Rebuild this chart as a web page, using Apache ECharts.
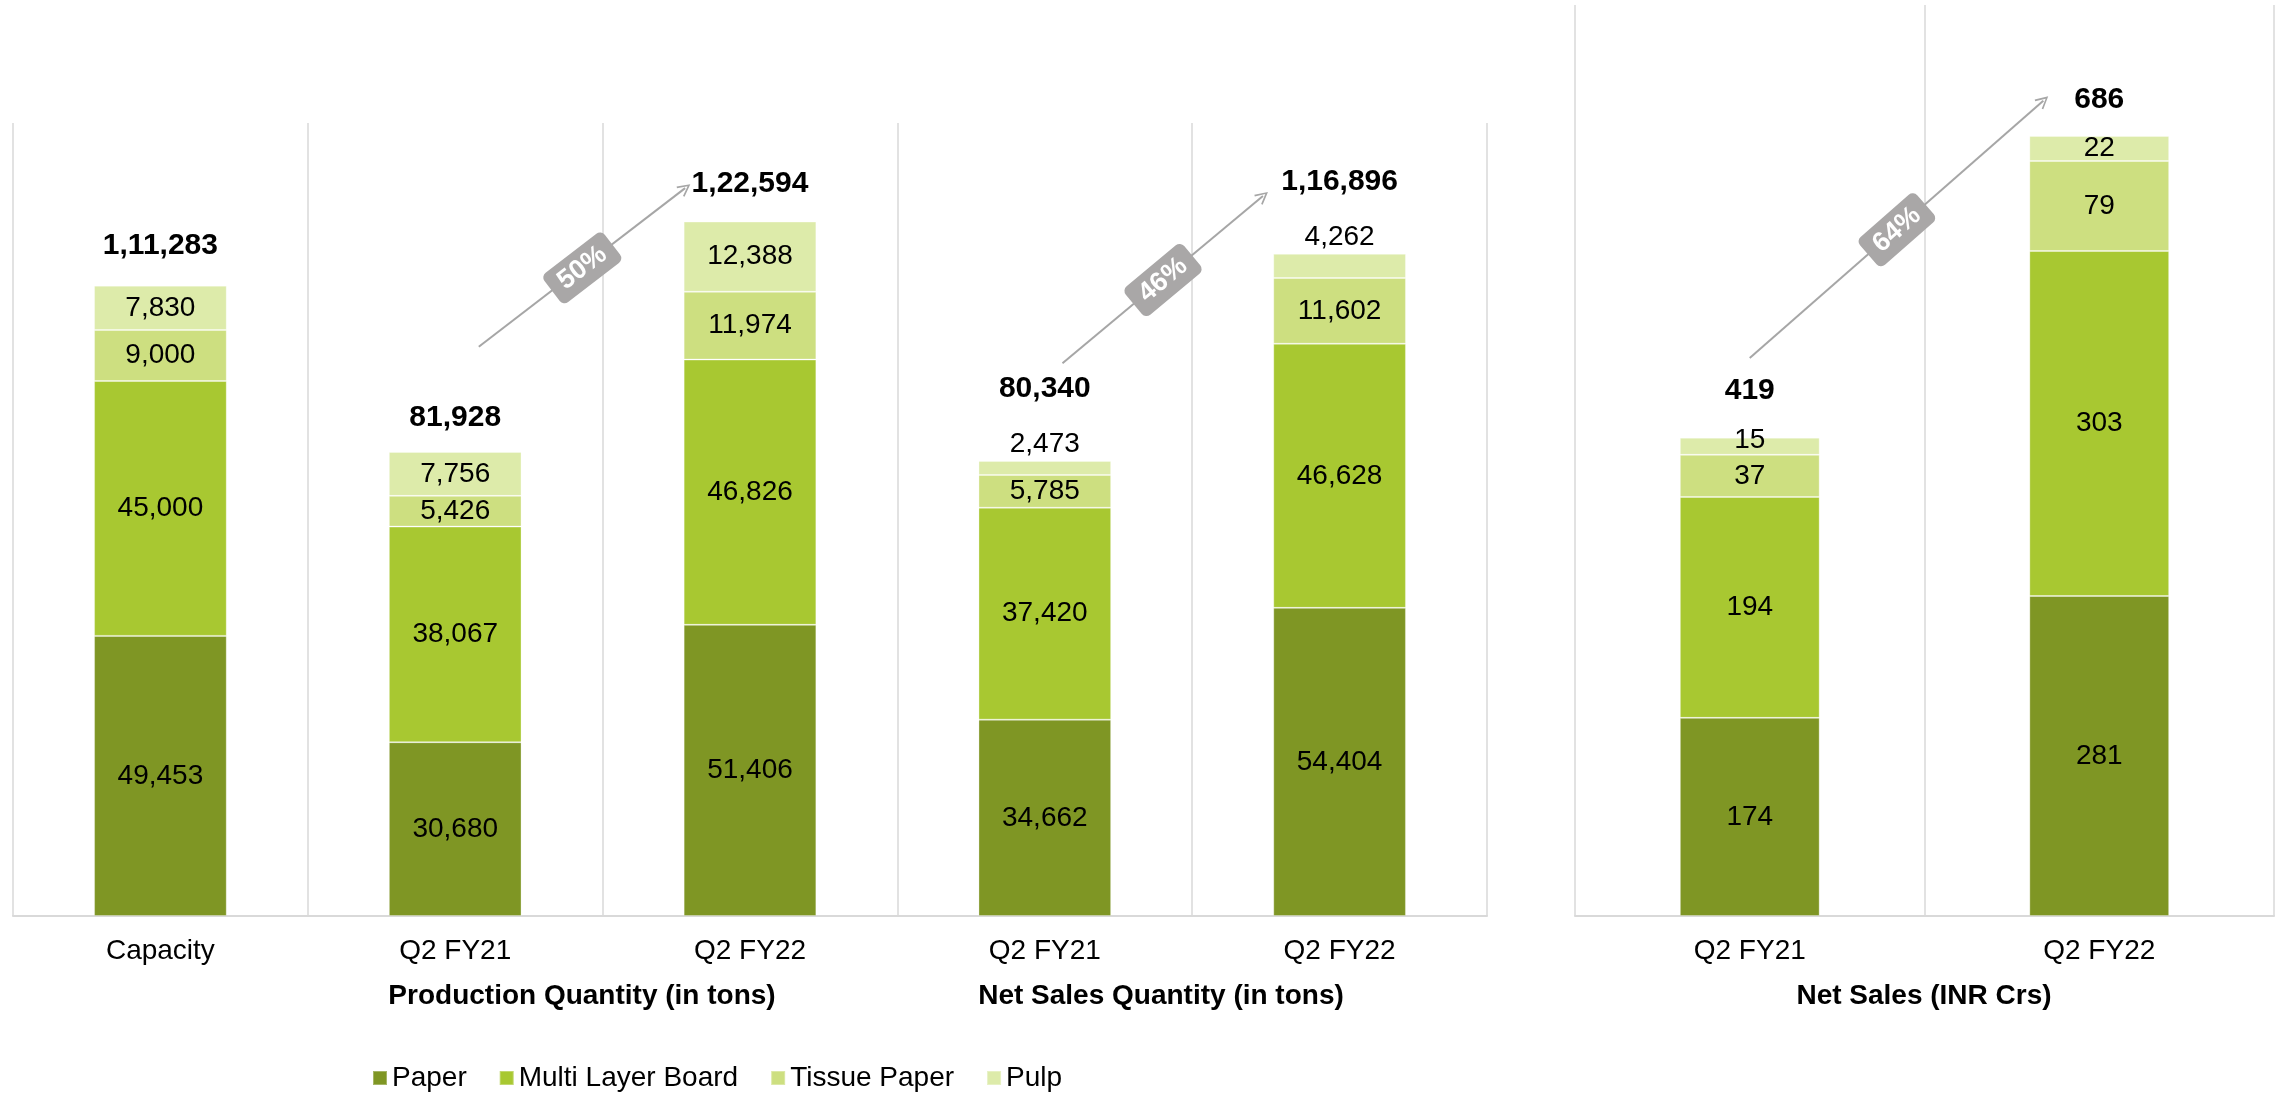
<!DOCTYPE html>
<html>
<head>
<meta charset="utf-8">
<script src="https://cdn.jsdelivr.net/npm/echarts@6/dist/echarts.min.js"></script>
<style>
html,body{margin:0;padding:0;background:#fff;}
#chart{width:2278px;height:1094px;}
</style>
</head>
<body>
<div id="chart"></div>
<script>
// ---------- data ----------
const seriesNames = ['Paper', 'Multi Layer Board', 'Tissue Paper', 'Pulp'];

// left panel: Capacity, Production Q2 FY21, Production Q2 FY22, Net Sales Qty Q2 FY21, Net Sales Qty Q2 FY22
const categoriesLeft = ['Capacity', 'Q2 FY21', 'Q2 FY22', 'Q2 FY21', 'Q2 FY22'];
const paperLeft  = [49453, 30680, 51406, 34662, 54404];
const boardLeft  = [45000, 38067, 46826, 37420, 46628];
const tissueLeft = [9000, 5426, 11974, 5785, 11602];
const pulpLeft   = [7830, 7756, 12388, 2473, 4262];
const totalsLeft = [111283, 81928, 122594, 80340, 116896];

// right panel: Net Sales (INR Crs)
const categoriesRight = ['Q2 FY21', 'Q2 FY22'];
const paperRight  = [174, 281];
const boardRight  = [194, 303];
const tissueRight = [37, 79];
const pulpRight   = [15, 22];
const totalsRight = [419, 686];

const groupTitles = ['Production Quantity (in tons)', 'Net Sales Quantity (in tons)', 'Net Sales (INR Crs)'];

// growth arrows: [fromIndex, toIndex] of totals and endpoints in (category-position, value) space
const arrowPairsLeft = [[1, 2], [3, 4]];
const arrowFromLeft = [[1.08, 100500], [3.06, 97600]];
const arrowToLeft   = [[1.78, 128500], [3.74, 127100]];
const arrowPairsRight = [[0, 1]];
const arrowFromRight = [[0.00, 490]];
const arrowToRight   = [[0.84, 716]];

// ---------- helpers ----------
function inr(n) {
  const s = String(Math.round(n));
  if (s.length <= 3) return s;
  const last3 = s.slice(-3);
  const rest = s.slice(0, -3).replace(/\B(?=(\d{2})+(?!\d))/g, ',');
  return rest + ',' + last3;
}
function growth(totals, pair) {
  return Math.round((totals[pair[1]] / totals[pair[0]] - 1) * 100) + '%';
}

const FONT = "'Liberation Sans', Arial, sans-serif";
const colors = ['#7F9624', '#A8C831', '#CDDF80', '#DDEBAA'];
const GRID_COLOR = '#D9D9D9';

const chart = echarts.init(document.getElementById('chart'), null, {renderer: 'canvas'});

function barSeries(name, idx, data, axisIdx, stack, barWidth, labelOverride) {
  return {
    name: name,
    type: 'bar',
    stack: stack,
    xAxisIndex: axisIdx,
    yAxisIndex: axisIdx,
    barWidth: barWidth,
    itemStyle: {color: colors[idx], borderColor: 'rgba(255,255,255,0.3)', borderWidth: 1},
    label: {
      show: true,
      position: 'inside',
      color: '#000',
      fontFamily: FONT,
      fontSize: 28,
      formatter: p => inr(p.value)
    },
    data: data.map((v, i) => labelOverride && labelOverride[i] ? {value: v, label: labelOverride[i]} : v),
    z: 2
  };
}

function totalSeries(data, axisIdx, barWidth, gaps) {
  return {
    name: 'Total',
    type: 'bar',
    xAxisIndex: axisIdx,
    yAxisIndex: axisIdx,
    barWidth: barWidth,
    barGap: '-100%',
    itemStyle: {color: 'rgba(0,0,0,0)'},
    silent: true,
    label: {
      show: true,
      position: 'top',
      color: '#000',
      fontFamily: FONT,
      fontWeight: 'bold',
      fontSize: 30,
      formatter: p => inr(p.value)
    },
    data: data.map((v, i) => ({value: v, label: {distance: gaps[i]}})),
    z: 1
  };
}

function arrowSeries(fromArr, toArr, pairs, totals, xIdx, yIdx) {
  return {
    type: 'lines',
    coordinateSystem: 'cartesian2d',
    xAxisIndex: xIdx,
    yAxisIndex: yIdx,
    polyline: false,
    symbol: ['none', 'path://M0,10 L5,0 L10,10 L8.8,10.6 L5,2.8 L1.2,10.6 Z'],
    symbolSize: [16, 13],
    lineStyle: {color: '#A6A6A6', width: 2, opacity: 1, curveness: 0},
    label: {
      show: true,
      position: 'middle',
      distance: [0, -19],
      color: '#fff',
      fontFamily: FONT,
      fontWeight: 'bold',
      fontSize: 27,
      backgroundColor: '#A9A7A7',
      borderRadius: 6,
      padding: [5, 11, 5, 11],
      formatter: p => p.name
    },
    data: pairs.map((pair, i) => ({name: growth(totals, pair), coords: [fromArr[i], toArr[i]]})),
    z: 5
  };
}

const pulpOutside = pulpLeft.map((v, i) => i >= 3 ? {position: 'top', distance: 3} : null);
const totalGapsLeft = [25, 19, 23, 57, 57];
const totalGapsRight = [33, 20];

const option = {
  backgroundColor: '#fff',
  animation: false,
  textStyle: {fontFamily: FONT},
  legend: {
    data: seriesNames,
    left: 372,
    top: 1064,
    padding: 0,
    itemWidth: 14,
    itemHeight: 14,
    itemGap: 32,
    icon: 'rect',
    textStyle: {fontFamily: FONT, fontSize: 28, color: '#000'}
  },
  grid: [
    {left: 13, right: 791, top: 123, bottom: 178},
    {left: 1575, right: 4, top: 5, bottom: 178}
  ],
  xAxis: [
    {
      type: 'category', gridIndex: 0, data: categoriesLeft,
      axisLine: {lineStyle: {color: GRID_COLOR, width: 2}},
      axisTick: {show: false},
      splitLine: {show: true, lineStyle: {color: GRID_COLOR, width: 1.5}},
      axisLabel: {color: '#000', fontFamily: FONT, fontSize: 28, margin: 21}
    },
    {
      type: 'category', gridIndex: 1, data: categoriesRight,
      axisLine: {lineStyle: {color: GRID_COLOR, width: 2}},
      axisTick: {show: false},
      splitLine: {show: true, lineStyle: {color: GRID_COLOR, width: 1.5}},
      axisLabel: {color: '#000', fontFamily: FONT, fontSize: 28, margin: 21}
    },
    {type: 'value', gridIndex: 0, min: -0.5, max: 4.5, show: false},
    {type: 'value', gridIndex: 1, min: -0.5, max: 1.5, show: false}
  ],
  yAxis: [
    {type: 'value', gridIndex: 0, min: 0, max: 140000, show: false, splitLine: {show: false}},
    {type: 'value', gridIndex: 1, min: 0, max: 800, show: false, splitLine: {show: false}}
  ],
  graphic: [
    {type: 'text', x: 582, y: 996, style: {text: groupTitles[0], fontFamily: FONT, fontWeight: 'bold', fontSize: 28, fill: '#000', textAlign: 'center', textVerticalAlign: 'middle'}},
    {type: 'text', x: 1161, y: 996, style: {text: groupTitles[1], fontFamily: FONT, fontWeight: 'bold', fontSize: 28, fill: '#000', textAlign: 'center', textVerticalAlign: 'middle'}},
    {type: 'text', x: 1924, y: 996, style: {text: groupTitles[2], fontFamily: FONT, fontWeight: 'bold', fontSize: 28, fill: '#000', textAlign: 'center', textVerticalAlign: 'middle'}}
  ],
  series: [
    barSeries(seriesNames[0], 0, paperLeft, 0, 'left', '45%'),
    barSeries(seriesNames[1], 1, boardLeft, 0, 'left', '45%'),
    barSeries(seriesNames[2], 2, tissueLeft, 0, 'left', '45%'),
    barSeries(seriesNames[3], 3, pulpLeft, 0, 'left', '45%', pulpOutside),
    totalSeries(totalsLeft, 0, '45%', totalGapsLeft),
    barSeries(seriesNames[0], 0, paperRight, 1, 'right', '40%'),
    barSeries(seriesNames[1], 1, boardRight, 1, 'right', '40%'),
    barSeries(seriesNames[2], 2, tissueRight, 1, 'right', '40%'),
    barSeries(seriesNames[3], 3, pulpRight, 1, 'right', '40%', [{offset: [0, -6]}, null]),
    totalSeries(totalsRight, 1, '40%', totalGapsRight),
    arrowSeries(arrowFromLeft, arrowToLeft, arrowPairsLeft, totalsLeft, 2, 0),
    arrowSeries(arrowFromRight, arrowToRight, arrowPairsRight, totalsRight, 3, 1)
  ]
};
chart.setOption(option);
</script>
</body>
</html>
